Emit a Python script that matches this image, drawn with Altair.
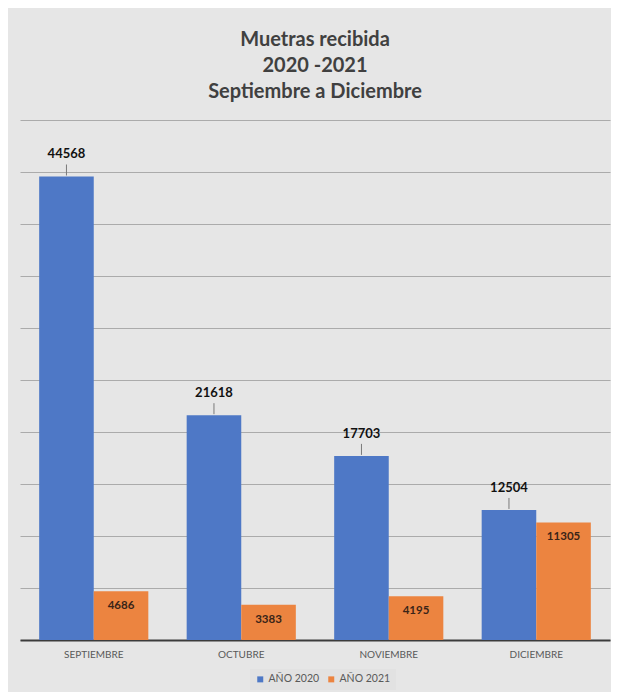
import altair as alt
import pandas as pd

meses = ["SEPTIEMBRE", "OCTUBRE", "NOVIEMBRE", "DICIEMBRE"]
series = ["AÑO 2020", "AÑO 2021"]
valores_2020 = [44568, 21618, 17703, 12504]
valores_2021 = [4686, 3383, 4195, 11305]
colores = ["#4e78c6", "#ec8440"]
titulo = ["Muetras recibida", "2020 -2021", "Septiembre a Diciembre"]

rows = []
for m, v in zip(meses, valores_2020):
    rows.append({"mes": m, "serie": series[0], "valor": v})
for m, v in zip(meses, valores_2021):
    rows.append({"mes": m, "serie": series[1], "valor": v})
df = pd.DataFrame(rows)

FONT = "Lato"

base = alt.Chart(df).encode(
    x=alt.X("mes:N", sort=meses,
            scale=alt.Scale(paddingInner=0.26, paddingOuter=0.13),
            axis=alt.Axis(title=None, labelAngle=0, ticks=False,
                          domainColor="#3c3c3c", domainWidth=2,
                          labelColor="#595959", labelFontSize=10,
                          labelFont=FONT, labelPadding=9, grid=False)),
    xOffset=alt.XOffset("serie:N", sort=series),
    y=alt.Y("valor:Q", scale=alt.Scale(domain=[0, 50000], nice=False),
            axis=alt.Axis(title=None, values=list(range(0, 50001, 5000)),
                          labels=False, ticks=False, domain=False,
                          grid=True, gridColor="#ababab", gridWidth=1)),
)

bars = base.mark_bar().encode(
    color=alt.Color("serie:N", sort=series,
                    scale=alt.Scale(domain=series, range=colores),
                    legend=alt.Legend(title=None, orient="none",
                                      legendX=230, legendY=549,
                                      direction="horizontal",
                                      symbolType="square", symbolSize=36,
                                      labelFontSize=10.5, labelColor="#595959",
                                      labelFont=FONT, columnPadding=6,
                                      labelOffset=3,
                                      padding=5, fillColor="#e2e2e2"))
)

lab20 = base.transform_filter(alt.datum.serie == series[0]).mark_text(
    dy=-22, fontSize=13, fontWeight="bold", font=FONT, color="#111111"
).encode(text=alt.Text("valor:Q", format="d"))

leader = base.transform_filter(alt.datum.serie == series[0]).mark_rule(
    yOffset=-1, y2Offset=-12, color="#7a7a7a", strokeWidth=1
).encode(y2=alt.Y2("valor:Q"))

lab21 = base.transform_filter(alt.datum.serie == series[1]).mark_text(
    dy=15, fontSize=11.5, fontWeight="bold", font=FONT, color="#3a2418"
).encode(text=alt.Text("valor:Q", format="d"))

chart = alt.layer(bars, leader, lab20, lab21).properties(
    width=590, height=520,
    title=alt.TitleParams(titulo, fontSize=20, font=FONT, fontWeight="bold",
                          color="#404040", lineHeight=26, offset=18,
                          anchor="middle"),
    background="#e6e6e6",
    padding={"left": 12, "right": 1, "top": 22, "bottom": 2},
).configure_view(stroke=None)

chart.save("out.html", embed_options={"renderer": "svg", "actions": False})
